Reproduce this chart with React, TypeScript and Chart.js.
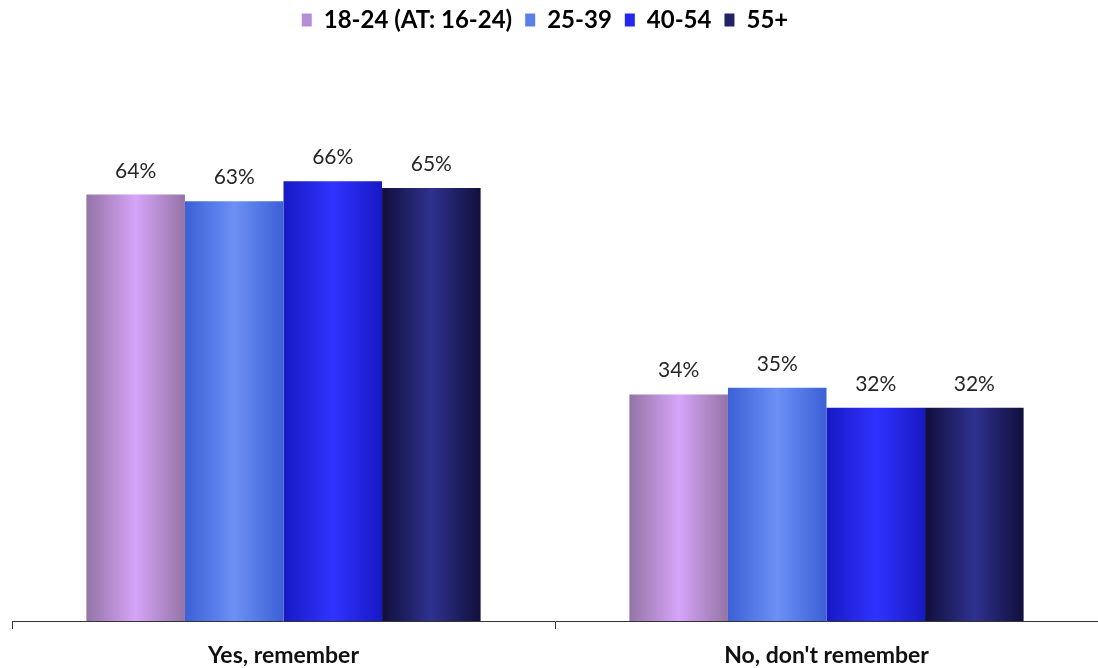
import React, { useEffect, useRef } from "react";
import { Chart, registerables } from "chart.js";

Chart.register(...registerables);

const categories = ["Yes, remember", "No, don't remember"];
const seriesNames = ["18-24 (AT: 16-24)", "25-39", "40-54", "55+"];
const age1824 = [64, 34];
const age2539 = [63, 35];
const age4054 = [66, 32];
const age55 = [65, 32];
const edgeColors = ["#9474a6", "#3c60d6", "#1719c4", "#110f3c"];
const centerColors = ["#d6a4f9", "#6c90f4", "#3033ff", "#2f3190"];
const legendColors = ["#b58ed6", "#5a80ea", "#2428ee", "#222266"];

const FONT = "Lato, 'Open Sans', sans-serif";

const gradientPlugin = {
  id: "barGradient",
  afterLayout(chart: any) {
    if (chart.legend) {
      chart.legend.left -= 10;
      chart.legend.right -= 10;
    }
  },
  beforeDatasetsDraw(chart: any) {
    const ctx = chart.ctx;
    chart.data.datasets.forEach((ds: any, di: number) => {
      const meta = chart.getDatasetMeta(di);
      meta.data.forEach((bar: any) => {
        const left = bar.x - bar.width / 2;
        const right = bar.x + bar.width / 2;
        const g = ctx.createLinearGradient(left, 0, right, 0);
        g.addColorStop(0, edgeColors[di]);
        g.addColorStop(0.5, centerColors[di]);
        g.addColorStop(1, edgeColors[di]);
        bar.options = Object.assign({}, bar.options, { backgroundColor: g });
      });
    });
  },
};

const labelPlugin = {
  id: "valueLabels",
  afterDatasetsDraw(chart: any) {
    const ctx = chart.ctx;
    ctx.save();
    ctx.font = "21px " + FONT;
    ctx.fillStyle = "#262626";
    ctx.textAlign = "center";
    ctx.textBaseline = "alphabetic";
    chart.data.datasets.forEach((ds: any, di: number) => {
      const meta = chart.getDatasetMeta(di);
      meta.data.forEach((bar: any, i: number) => {
        ctx.fillText(ds.data[i] + "%", bar.x, bar.y - 17);
      });
    });
    ctx.restore();
  },
};

export default function App() {
  const ref = useRef<HTMLCanvasElement>(null);
  useEffect(() => {
    const values = [age1824, age2539, age4054, age55];
    const chart = new Chart(ref.current!, {
      type: "bar",
      data: {
        labels: categories,
        datasets: seriesNames.map((name, i) => ({
          label: name,
          data: values[i],
          backgroundColor: legendColors[i],
          borderWidth: 0,
          barPercentage: 1,
          categoryPercentage: 0.726,
        })),
      },
      options: {
        animation: false,
        responsive: true,
        maintainAspectRatio: false,
        layout: { padding: { left: 12, right: 0, top: -5, bottom: 0 } },
        plugins: {
          tooltip: { enabled: false },
          legend: {
            position: "top",
            labels: {
              boxWidth: 10,
              boxHeight: 13,
              padding: 13,
              color: "#111",
              font: { family: FONT, size: 24, weight: "bold" },
              generateLabels: (chart: any) =>
                chart.data.datasets.map((ds: any, i: number) => ({
                  text: ds.label,
                  fillStyle: legendColors[i],
                  strokeStyle: legendColors[i],
                  lineWidth: 0,
                  hidden: false,
                  datasetIndex: i,
                })),
            },
          },
        },
        scales: {
          x: {
            afterFit: (scale: any) => {
              scale.height = 47;
            },
            grid: {
              display: true,
              offset: true,
              drawOnChartArea: false,
              drawTicks: true,
              tickLength: 8,
              color: "#333",
            },
            border: { display: true, color: "#333", width: 1 },
            ticks: {
              padding: 13,
              color: "#111",
              font: { family: FONT, size: 23, weight: "bold" },
            },
          },
          y: {
            display: false,
            min: 0,
            max: 86.9,
          },
        },
      },
      plugins: [gradientPlugin, labelPlugin],
    });
    return () => chart.destroy();
  }, []);
  return (
    <div style={{ position: "fixed", left: 0, top: 0, width: 1098, height: 668, background: "#fff" }}>
      <canvas ref={ref} />
    </div>
  );
}
